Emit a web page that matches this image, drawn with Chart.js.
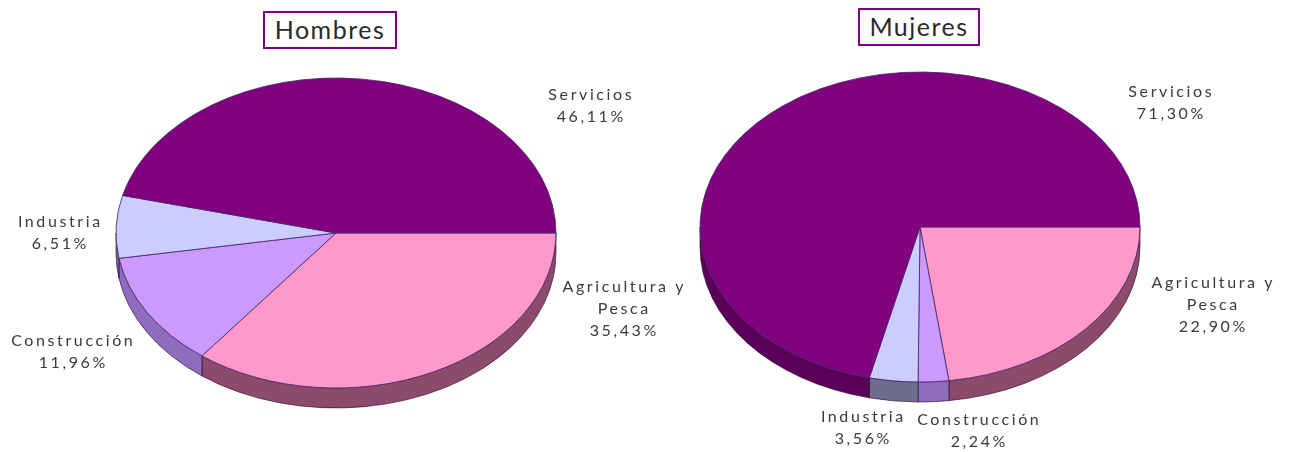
<!DOCTYPE html>
<html>
<head>
<meta charset="utf-8">
<script src="https://cdn.jsdelivr.net/npm/chart.js@4/dist/chart.umd.min.js"></script>
<style>
  html, body { margin: 0; padding: 0; background: #fff; }
  #wrap { position: relative; width: 1290px; height: 452px; overflow: hidden; }
  .box { position: absolute; top: 0; left: 0; width: 1290px; height: 452px; }
  .title {
    position: absolute; box-sizing: border-box; border: 2px solid #800080;
    font-family: Lato, sans-serif; font-size: 25px; letter-spacing: 1.5px; color: #2a2a2a;
    text-align: center; line-height: 33px; background: #fff;
  }
</style>
</head>
<body>
<div id="wrap">
  <div class="box"><canvas id="hombres"></canvas></div>
  <div class="box"><canvas id="mujeres"></canvas></div>
  <div class="title" style="left:263px; top:11px; width:134px; height:38px;">Hombres</div>
  <div class="title" style="left:858px; top:8px; width:122px; height:38px;">Mujeres</div>
</div>
<script>
const categories = ['Agricultura y Pesca', 'Construcción', 'Industria', 'Servicios'];
const labelLines = [['Agricultura y', 'Pesca'], ['Construcción'], ['Industria'], ['Servicios']];
const hombresValues = [35.43, 11.96, 6.51, 46.11];
const mujeresValues = [22.90, 2.24, 3.56, 71.30];

const faceColors = ['#ff99cc', '#cc99ff', '#ccccff', '#800080'];
const sideColors = ['#8c4a6c', '#8e6cbe', '#6c6c8e', '#5a005a'];

// label block position relative to pie centre (x = block centre, y = first line)
const hombresLabelPos = [[287, 54], [-264, 108], [-277, -11], [254, -138]];
const mujeresLabelPos = [[292, 56], [58, 193], [-58, 190], [250, -135]];

const RY = 155;     // vertical radius of the tilted pie
const DEPTH = 20;   // thickness of the pie

const fmt = v => v.toFixed(2).replace('.', ',') + '%';

const pie3d = {
  id: 'pie3d',
  beforeDatasetsDraw(chart) {
    const ctx = chart.ctx;
    const arcs = chart.getDatasetMeta(0).data;
    const cx = arcs[0].x, cy = arcs[0].y, rx = arcs[0].outerRadius;
    // front walls
    arcs.forEach((arc, i) => {
      const a = Math.max(arc.startAngle, 0);
      const b = Math.min(arc.endAngle, Math.PI);
      if (a >= b) return;
      ctx.save();
      ctx.beginPath();
      ctx.ellipse(cx, cy, rx, RY, 0, a, b);
      ctx.ellipse(cx, cy + DEPTH, rx, RY, 0, b, a, true);
      ctx.closePath();
      ctx.fillStyle = sideColors[i];
      ctx.fill();
      ctx.lineWidth = 1;
      ctx.strokeStyle = 'rgba(40,0,40,0.6)';
      ctx.stroke();
      ctx.restore();
    });
    // squash the top face into an ellipse
    ctx.save();
    ctx.translate(cx, cy);
    ctx.scale(1, RY / rx);
    ctx.translate(-cx, -cy);
  },
  afterDatasetsDraw(chart, args, opts) {
    const ctx = chart.ctx;
    ctx.restore();
    const arcs = chart.getDatasetMeta(0).data;
    const cx = arcs[0].x, cy = arcs[0].y;
    const values = chart.data.datasets[0].data;
    const sp = 2.6;
    ctx.save();
    ctx.font = '16px Lato, sans-serif';
    ctx.letterSpacing = sp + 'px';
    ctx.fillStyle = '#3a3a3a';
    ctx.textAlign = 'center';
    ctx.textBaseline = 'middle';
    opts.labelPos.forEach((p, i) => {
      const lines = labelLines[i].concat([fmt(values[i])]);
      lines.forEach((t, j) => ctx.fillText(t, cx + p[0] + sp / 2, cy + p[1] + j * 22));
    });
    ctx.restore();
  }
};

function makePie(id, values, labelPos, padding) {
  return new Chart(document.getElementById(id), {
    type: 'pie',
    data: {
      labels: categories,
      datasets: [{
        data: values,
        backgroundColor: faceColors,
        borderColor: '#4a2a66',
        borderWidth: 1
      }]
    },
    options: {
      responsive: false,
      animation: false,
      rotation: 90,
      radius: 220,
      layout: { padding: padding },
      plugins: {
        legend: { display: false },
        tooltip: { enabled: false },
        pie3d: { labelPos: labelPos }
      }
    },
    plugins: [pie3d]
  });
}

['hombres', 'mujeres'].forEach(id => {
  const c = document.getElementById(id);
  c.width = 1290; c.height = 452;
  c.style.width = '1290px'; c.style.height = '452px';
});

makePie('hombres', hombresValues, hombresLabelPos, { left: 0, right: 618, top: 14, bottom: 0 });
makePie('mujeres', mujeresValues, mujeresLabelPos, { left: 550, right: 0, top: 2, bottom: 0 });
</script>
</body>
</html>
